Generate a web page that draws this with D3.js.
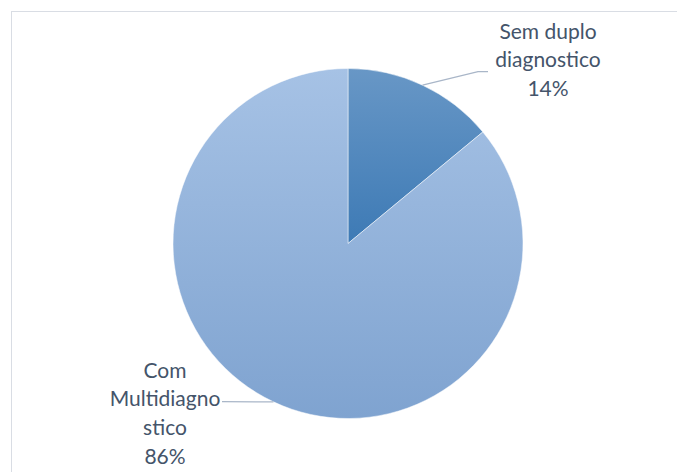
<!DOCTYPE html>
<html>
<head>
<meta charset="utf-8">
<script src="https://cdn.jsdelivr.net/npm/d3@7"></script>
<style>
	body { margin: 0; background: #fff; }
	text { font-family: Lato, "Open Sans", sans-serif; fill: #44546a; }
</style>
</head>
<body>
<div id="chart"></div>
<script>
// Pie chart data
var categories = ['Sem duplo diagnostico', 'Com Multidiagnostico'];
var values = [14, 86];
var labelLines = [['Sem duplo', 'diagnostico', '14%'], ['Com', 'Multidiagno', 'stico', '86%']];

var width = 677,
	height = 472,
	cx = 348,
	cy = 243.5,
	radius = 175;

var colors = [
	{top: '#6897c6', bottom: '#3d7ab5'},
	{top: '#a6c2e5', bottom: '#7fa3d0'}
];

var svg = d3.select('#chart').append('svg')
	.attr('width', width)
	.attr('height', height);

// chart border
svg.append('rect')
	.attr('x', 11.5)
	.attr('y', 11.5)
	.attr('width', width)
	.attr('height', height)
	.attr('fill', 'none')
	.attr('stroke', '#d9dde4')
	.attr('stroke-width', 1);

var defs = svg.append('defs');
colors.forEach(function(c, i) {
	var g = defs.append('linearGradient')
		.attr('id', 'grad' + i)
		.attr('x1', 0).attr('y1', 0)
		.attr('x2', 0).attr('y2', 1);
	g.append('stop').attr('offset', '0%').attr('stop-color', c.top);
	g.append('stop').attr('offset', '100%').attr('stop-color', c.bottom);
});

var pie = d3.pie().sort(null).value(function(d) { return d; });
var arcs = pie(values);

var arc = d3.arc().innerRadius(0).outerRadius(radius);
var edgeArc = d3.arc().innerRadius(radius).outerRadius(radius);

var chartG = svg.append('g')
	.attr('transform', 'translate(' + cx + ',' + cy + ')');

chartG.selectAll('path')
	.data(arcs)
	.enter().append('path')
	.attr('d', arc)
	.attr('fill', function(d, i) { return 'url(#grad' + i + ')'; })
	.attr('stroke', '#fff')
	.attr('stroke-width', 0.5);

// label layout (relative to pie center)
var labelPos = [
	{elbow: [130, -171.8], end: [140, -171.8], x: 200, y: -205, anchor: 'middle'},
	{elbow: [-126, 158.2], end: [-126, 158.2], x: -183, y: 134, anchor: 'middle'}
];

var lineG = chartG.append('g');
arcs.forEach(function(d, i) {
	var p = edgeArc.centroid(d);
	var lp = labelPos[i];
	lineG.append('polyline')
		.attr('points', [p, lp.elbow, lp.end].join(' '))
		.attr('fill', 'none')
		.attr('stroke', '#a9b6c8')
		.attr('stroke-width', 1.3);
});

var labelG = chartG.append('g');
arcs.forEach(function(d, i) {
	var lp = labelPos[i];
	var t = labelG.append('text')
		.attr('text-anchor', lp.anchor)
		.style('font-size', '21px');
	labelLines[i].forEach(function(s, j) {
		t.append('tspan')
			.attr('x', lp.x)
			.attr('y', lp.y + j * 28.8)
			.text(s);
	});
});
</script>
</body>
</html>
